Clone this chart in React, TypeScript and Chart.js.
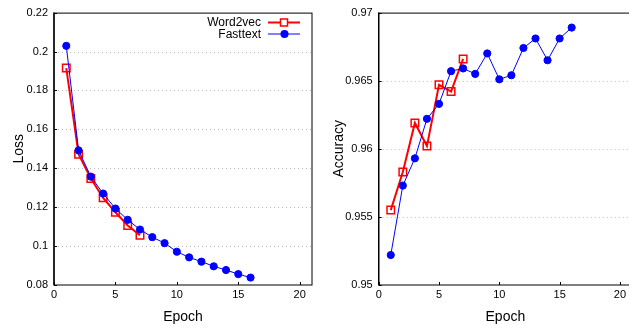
import { useEffect, useRef } from "react";
import { Chart, registerables } from "chart.js";
Chart.register(...registerables);

const word2vecEpochs = [1, 2, 3, 4, 5, 6, 7];
const fasttextEpochs = [1, 2, 3, 4, 5, 6, 7, 8, 9, 10, 11, 12, 13, 14, 15, 16];
const word2vecLoss = [0.1915, 0.1472, 0.1347, 0.1248, 0.1174, 0.1106, 0.1056];
const fasttextLoss = [0.2029, 0.1492, 0.1357, 0.127, 0.1193, 0.1135, 0.1085, 0.1046, 0.1015, 0.0971, 0.0942, 0.092, 0.0896, 0.0877, 0.0856, 0.0838];
const word2vecAcc = [0.9555, 0.9583, 0.9619, 0.9602, 0.9647, 0.9642, 0.9666];
const fasttextAcc = [0.9522, 0.9573, 0.9593, 0.9622, 0.9633, 0.9657, 0.9659, 0.9655, 0.967, 0.9651, 0.9654, 0.9674, 0.9681, 0.9665, 0.9681, 0.9689];
const xTicks = [0, 5, 10, 15, 20];
const lossTicks = [0.08, 0.1, 0.12, 0.14, 0.16, 0.18, 0.2, 0.22];
const accTicks = [0.95, 0.955, 0.96, 0.965, 0.97];
const seriesNames = ["Word2vec", "Fasttext"];

const FONT = "'Liberation Sans', Arial, sans-serif";
const RED = "#ff0000";
const BLUE = "#0000ff";

function zip(xs: number[], ys: number[]) {
  return xs.map((x, i) => ({ x, y: ys[i] }));
}

const framePlugin = {
  id: "frame",
  beforeDatasetsDraw(chart: any) {
    const { ctx, chartArea: a, scales } = chart;
    const y = scales.y;
    ctx.save();
    ctx.strokeStyle = "#b8b8b8";
    ctx.lineWidth = 1;
    ctx.setLineDash([1, 3]);
    y.ticks.forEach((t: any) => {
      const py = Math.round(y.getPixelForValue(t.value)) + 0.5;
      if (py > a.top + 2 && py < a.bottom - 2) {
        ctx.beginPath();
        ctx.moveTo(a.left, py);
        ctx.lineTo(a.right, py);
        ctx.stroke();
      }
    });
    ctx.restore();
  },
  afterDatasetsDraw(chart: any) {
    const { ctx, chartArea: a, scales } = chart;
    ctx.save();
    ctx.strokeStyle = "#000";
    ctx.lineWidth = 1;
    ctx.setLineDash([]);
    ctx.strokeRect(a.left, a.top + 0.5, a.right - a.left, a.bottom - a.top - 0.5);
    ctx.beginPath();
    ctx.lineWidth = 1.4;
    ctx.moveTo(a.left, a.top);
    ctx.lineTo(a.left, a.bottom);
    ctx.stroke();
    ctx.lineWidth = 1;
    scales.x.ticks.forEach((t: any) => {
      const px = Math.round(scales.x.getPixelForValue(t.value)) + 0.5;
      ctx.beginPath();
      ctx.moveTo(px, a.bottom);
      ctx.lineTo(px, a.bottom - 3);
      ctx.stroke();
    });
    scales.y.ticks.forEach((t: any) => {
      const py = Math.round(scales.y.getPixelForValue(t.value)) + 0.5;
      ctx.beginPath();
      ctx.moveTo(a.left, py);
      ctx.lineTo(a.left + 3, py);
      ctx.stroke();
    });
    ctx.restore();
  },
};

const legendPlugin = {
  id: "customLegend",
  afterDraw(chart: any) {
    const { ctx } = chart;
    const rows = [
      { name: seriesNames[0], color: RED, y: 22.5, square: true },
      { name: seriesNames[1], color: BLUE, y: 34, square: false },
    ];
    ctx.save();
    ctx.font = `12px ${FONT}`;
    ctx.textAlign = "right";
    ctx.textBaseline = "middle";
    rows.forEach((r) => {
      ctx.fillStyle = "#000";
      ctx.fillText(r.name, 261, r.y + 0.5);
      ctx.strokeStyle = r.color;
      ctx.lineWidth = r.square ? 2 : 1;
      ctx.beginPath();
      ctx.moveTo(268, r.y);
      ctx.lineTo(300, r.y);
      ctx.stroke();
      if (r.square) {
        ctx.lineWidth = 1.5;
        ctx.fillStyle = "#fff";
        ctx.fillRect(280.5, r.y - 3.5, 7, 7);
        ctx.strokeRect(280.5, r.y - 3.5, 7, 7);
      } else {
        ctx.fillStyle = r.color;
        ctx.beginPath();
        ctx.arc(284.5, r.y, 4, 0, Math.PI * 2);
        ctx.fill();
      }
    });
    ctx.restore();
  },
};

function makeConfig(
  w2v: number[],
  ft: number[],
  yTicks: number[],
  yTitle: string,
  yWidth: number,
  withLegend: boolean
): any {
  return {
    type: "line",
    data: {
      datasets: [
        {
          label: seriesNames[1],
          data: zip(fasttextEpochs, ft),
          borderColor: BLUE,
          backgroundColor: BLUE,
          borderWidth: 1,
          pointStyle: "circle",
          pointRadius: 3.6,
          pointBorderWidth: 1,
          pointBackgroundColor: BLUE,
          pointBorderColor: BLUE,
          tension: 0,
          order: 0,
        },
        {
          label: seriesNames[0],
          data: zip(word2vecEpochs, w2v),
          borderColor: RED,
          backgroundColor: "rgba(0,0,0,0)",
          borderWidth: 2,
          pointStyle: "rect",
          pointRadius: 5.3,
          pointBorderWidth: 1.5,
          pointBackgroundColor: "rgba(0,0,0,0)",
          pointBorderColor: RED,
          tension: 0,
          order: 1,
        },
      ],
    },
    options: {
      responsive: false,
      animation: false,
      devicePixelRatio: 1,
      layout: { padding: { top: 12, right: 8, left: 0, bottom: 0 } },
      plugins: { legend: { display: false }, tooltip: { enabled: false } },
      scales: {
        x: {
          type: "linear",
          min: 0,
          max: 21,
          grid: { display: false, drawTicks: false },
          border: { display: false },
          afterBuildTicks: (s: any) => {
            s.ticks = xTicks.map((v) => ({ value: v }));
          },
          afterFit: (s: any) => {
            s.height = 41;
          },
          ticks: {
            color: "#000",
            font: { family: FONT, size: 11 },
            padding: 3,
            maxRotation: 0,
            callback: (v: any) => String(v),
          },
          title: {
            display: true,
            text: "Epoch",
            color: "#000",
            font: { family: FONT, size: 14 },
            padding: { top: 0, bottom: 0 },
          },
        },
        y: {
          type: "linear",
          min: yTicks[0],
          max: yTicks[yTicks.length - 1],
          grid: { display: false, drawTicks: false },
          border: { display: false },
          afterBuildTicks: (s: any) => {
            s.ticks = yTicks.map((v) => ({ value: v }));
          },
          afterFit: (s: any) => {
            s.width = yWidth;
          },
          ticks: {
            color: "#000",
            font: { family: FONT, size: 11 },
            padding: 6,
            callback: (v: any) => String(Number(Number(v).toFixed(4))),
          },
          title: {
            display: true,
            text: yTitle,
            color: "#000",
            font: { family: FONT, size: 14 },
            padding: { top: 11, bottom: 0 },
          },
        },
      },
    },
    plugins: withLegend ? [framePlugin, legendPlugin] : [framePlugin],
  };
}

export default function App() {
  const leftRef = useRef<HTMLCanvasElement>(null);
  const rightRef = useRef<HTMLCanvasElement>(null);

  useEffect(() => {
    const c1 = new Chart(leftRef.current as HTMLCanvasElement, makeConfig(word2vecLoss, fasttextLoss, lossTicks, "Loss", 54, true));
    const c2 = new Chart(rightRef.current as HTMLCanvasElement, makeConfig(word2vecAcc, fasttextAcc, accTicks, "Accuracy", 58.7, false));
    return () => {
      c1.destroy();
      c2.destroy();
    };
  }, []);

  return (
    <div style={{ position: "absolute", left: 0, top: 0, width: 629, height: 326, overflow: "hidden", background: "#fff" }}>
      <div style={{ position: "absolute", left: 0, top: 0, width: 320, height: 326 }}>
        <canvas ref={leftRef} width={320} height={326} style={{ width: 320, height: 326, display: "block" }} />
      </div>
      <div style={{ position: "absolute", left: 320, top: 0, width: 320, height: 326 }}>
        <canvas ref={rightRef} width={320} height={326} style={{ width: 320, height: 326, display: "block" }} />
      </div>
    </div>
  );
}
